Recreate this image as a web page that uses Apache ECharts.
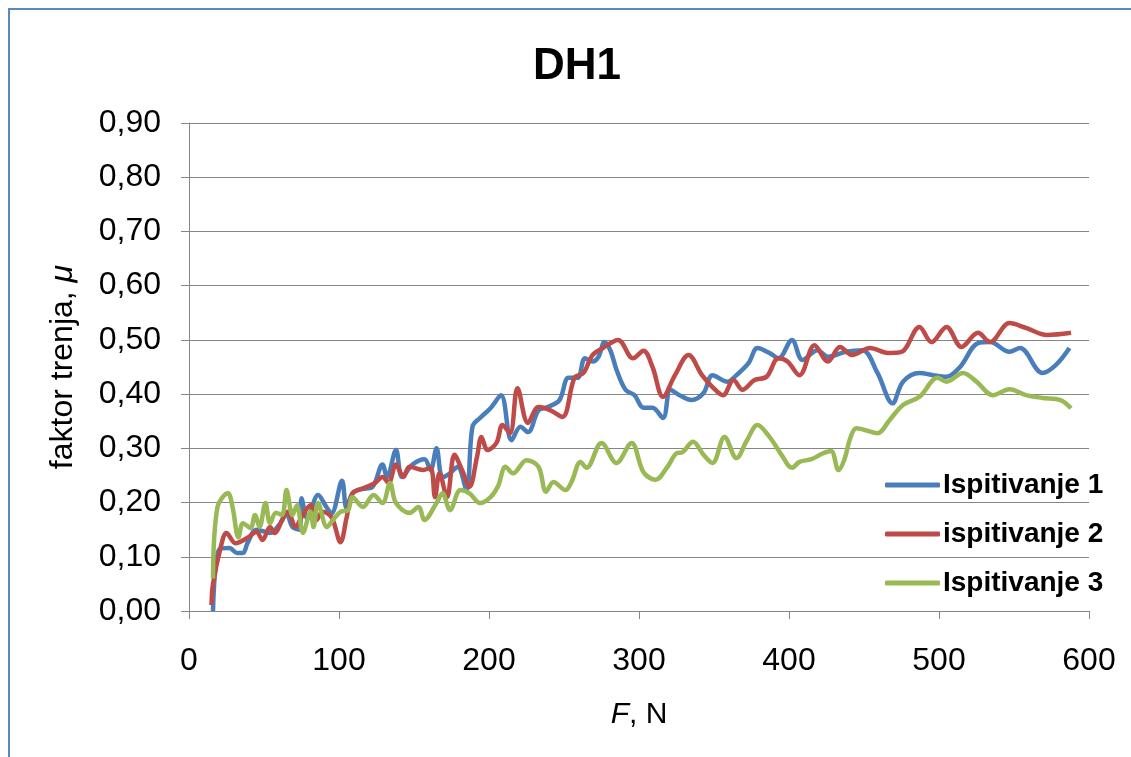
<!DOCTYPE html>
<html>
<head>
<meta charset="utf-8">
<script src="https://cdn.jsdelivr.net/npm/echarts@6/dist/echarts.min.js"></script>
<style>
html,body{margin:0;padding:0;background:#fff;overflow:hidden;}
#frame{position:absolute;left:8px;top:8px;width:1300px;height:900px;border:2px solid #5a88c6;box-sizing:border-box;}
#chart{position:absolute;left:0;top:0;width:1131px;height:757px;}
</style>
</head>
<body>
<div id="frame"></div>
<div id="chart"></div>
<script>
const titleText = 'DH1';
const seriesNames = ['Ispitivanje 1', 'ispitivanje 2', 'Ispitivanje 3'];
const xTicks = [0, 100, 200, 300, 400, 500, 600];
const yTicks = [0, 0.1, 0.2, 0.3, 0.4, 0.5, 0.6, 0.7, 0.8, 0.9];

const f1 = [16,20,27,32,36,39,45,54,61,65,69,74,75,79,86,92,95,102,105,109,115,122,129,132,138,142,149,157,161,165,169,174,179,185,189,194,201,208,215,221,226,233,239,247,253,259,264,269,273,277,281,285,291,297,303,309,316,321,327,335,343,349,359,365,373,379,387,393,402,409,419,426,438,449,459,469,476,487,496,505,514,526,534,547,554,569,578,587];
const mu1 = [0.00,0.113,0.116,0.107,0.107,0.125,0.15,0.144,0.162,0.18,0.155,0.15,0.208,0.17,0.214,0.19,0.18,0.24,0.19,0.217,0.225,0.228,0.27,0.247,0.297,0.247,0.27,0.28,0.26,0.30,0.247,0.254,0.266,0.223,0.34,0.356,0.374,0.398,0.315,0.34,0.33,0.37,0.376,0.389,0.43,0.43,0.466,0.46,0.469,0.496,0.48,0.445,0.408,0.398,0.375,0.375,0.356,0.408,0.398,0.389,0.402,0.435,0.423,0.435,0.457,0.485,0.476,0.466,0.50,0.463,0.481,0.469,0.478,0.481,0.439,0.383,0.423,0.439,0.435,0.432,0.45,0.494,0.496,0.478,0.485,0.439,0.454,0.485];

const f2 = [15,16,21,25,31,39,45,49,54,57,63,66,71,75,81,85,89,95,101,105,109,117,124,129,133,138,143,147,156,161,164,167,172,177,182,187,192,195,199,205,209,214,219,226,233,241,249,257,263,269,276,286,296,303,309,316,324,333,342,349,356,363,369,377,385,393,399,407,417,426,434,442,454,466,475,487,495,505,515,526,534,547,558,572,588];
const mu2 = [0.011,0.05,0.116,0.144,0.125,0.135,0.146,0.131,0.155,0.144,0.173,0.183,0.155,0.173,0.195,0.168,0.183,0.173,0.127,0.171,0.217,0.227,0.236,0.247,0.236,0.27,0.247,0.266,0.26,0.264,0.21,0.254,0.21,0.288,0.26,0.229,0.284,0.321,0.297,0.31,0.343,0.328,0.411,0.347,0.376,0.37,0.358,0.43,0.439,0.472,0.485,0.50,0.466,0.48,0.45,0.395,0.435,0.472,0.435,0.413,0.398,0.426,0.408,0.426,0.432,0.466,0.46,0.435,0.49,0.46,0.487,0.472,0.485,0.476,0.478,0.524,0.496,0.524,0.487,0.513,0.496,0.531,0.522,0.509,0.513];

const f3 = [16,19,26,29,33,36,41,44,47,51,54,58,62,65,69,72,76,81,83,86,92,96,101,106,109,116,123,129,134,138,147,153,157,165,169,174,181,187,194,201,206,211,216,225,233,238,243,251,255,261,265,275,285,295,303,311,319,325,329,336,343,349,357,365,372,379,387,395,402,407,415,422,428,433,437,441,445,459,467,476,487,499,505,516,525,536,547,558,569,581,588];
const mu3 = [0.06,0.192,0.217,0.192,0.136,0.162,0.153,0.177,0.155,0.199,0.162,0.181,0.177,0.223,0.177,0.195,0.144,0.183,0.155,0.199,0.155,0.168,0.183,0.186,0.21,0.192,0.214,0.199,0.236,0.199,0.181,0.192,0.168,0.199,0.217,0.186,0.223,0.217,0.199,0.21,0.23,0.266,0.254,0.278,0.266,0.22,0.238,0.223,0.238,0.275,0.264,0.31,0.273,0.31,0.256,0.242,0.266,0.291,0.293,0.312,0.288,0.273,0.321,0.282,0.315,0.343,0.321,0.288,0.264,0.275,0.28,0.29,0.295,0.26,0.28,0.32,0.337,0.328,0.352,0.38,0.395,0.43,0.423,0.439,0.423,0.398,0.409,0.398,0.393,0.389,0.374];

const colors = ['#4a7ebb', '#be4b48', '#98b954'];

function pairs(xs, ys) { return xs.map((x, i) => [x, ys[i]]); }
const datasets = [pairs(f1, mu1), pairs(f2, mu2), pairs(f3, mu3)];

const FONT = '"Liberation Sans", Arial, sans-serif';
const chart = echarts.init(document.getElementById('chart'), null, {renderer: 'canvas'});
chart.setOption({
  animation: false,
  backgroundColor: 'transparent',
  title: {
    text: titleText, left: 528, top: 40,
    textStyle: {fontFamily: FONT, fontSize: 44, fontWeight: 'bold', color: '#000'}
  },
  grid: {left: 189, right: 42, top: 123, bottom: 146, containLabel: false},
  legend: {
    orient: 'vertical', left: 880, top: 465,
    itemWidth: 55, itemHeight: 5, itemGap: 19,
    icon: 'roundRect',
    data: seriesNames,
    textStyle: {fontFamily: FONT, fontSize: 28, fontWeight: 'bold', color: '#000', lineHeight: 30, padding: [0,0,0,-2]}
  },
  xAxis: {
    type: 'value', min: xTicks[0], max: xTicks[xTicks.length - 1], interval: 100,
    name: '{i|F}, N', nameLocation: 'middle', nameGap: 89,
    nameTextStyle: {fontFamily: FONT, fontSize: 30, color: '#000',
      rich: {i: {fontFamily: FONT, fontSize: 30, fontStyle: 'italic', color: '#000'}}},
    axisLine: {show: true, onZero: false, lineStyle: {color: '#868686', width: 1}},
    axisTick: {show: true, length: 8, inside: false, lineStyle: {color: '#868686'}},
    axisLabel: {margin: 34, fontFamily: FONT, fontSize: 32, color: '#000'},
    splitLine: {show: false}
  },
  yAxis: {
    type: 'value', min: yTicks[0], max: yTicks[yTicks.length - 1], interval: 0.1,
    name: 'faktor trenja, {i|μ}', nameLocation: 'middle', nameGap: 110, nameRotate: 90,
    nameTextStyle: {fontFamily: FONT, fontSize: 32, color: '#000',
      rich: {i: {fontFamily: FONT, fontSize: 32, fontStyle: 'italic', color: '#000'}}},
    axisLine: {show: true, lineStyle: {color: '#868686', width: 1}},
    axisTick: {show: true, length: 8, inside: false, lineStyle: {color: '#868686'}},
    axisLabel: {margin: 28, fontFamily: FONT, fontSize: 32, color: '#000',
      formatter: v => v.toFixed(2).replace('.', ',')},
    splitLine: {show: true, lineStyle: {color: '#868686', width: 1}}
  },
  series: datasets.map((d, i) => ({
    name: seriesNames[i], type: 'line', data: d, smooth: 0.35,
    showSymbol: false, symbol: 'none',
    lineStyle: {color: colors[i], width: 4.5},
    itemStyle: {color: colors[i]}
  }))
});
</script>
</body>
</html>
